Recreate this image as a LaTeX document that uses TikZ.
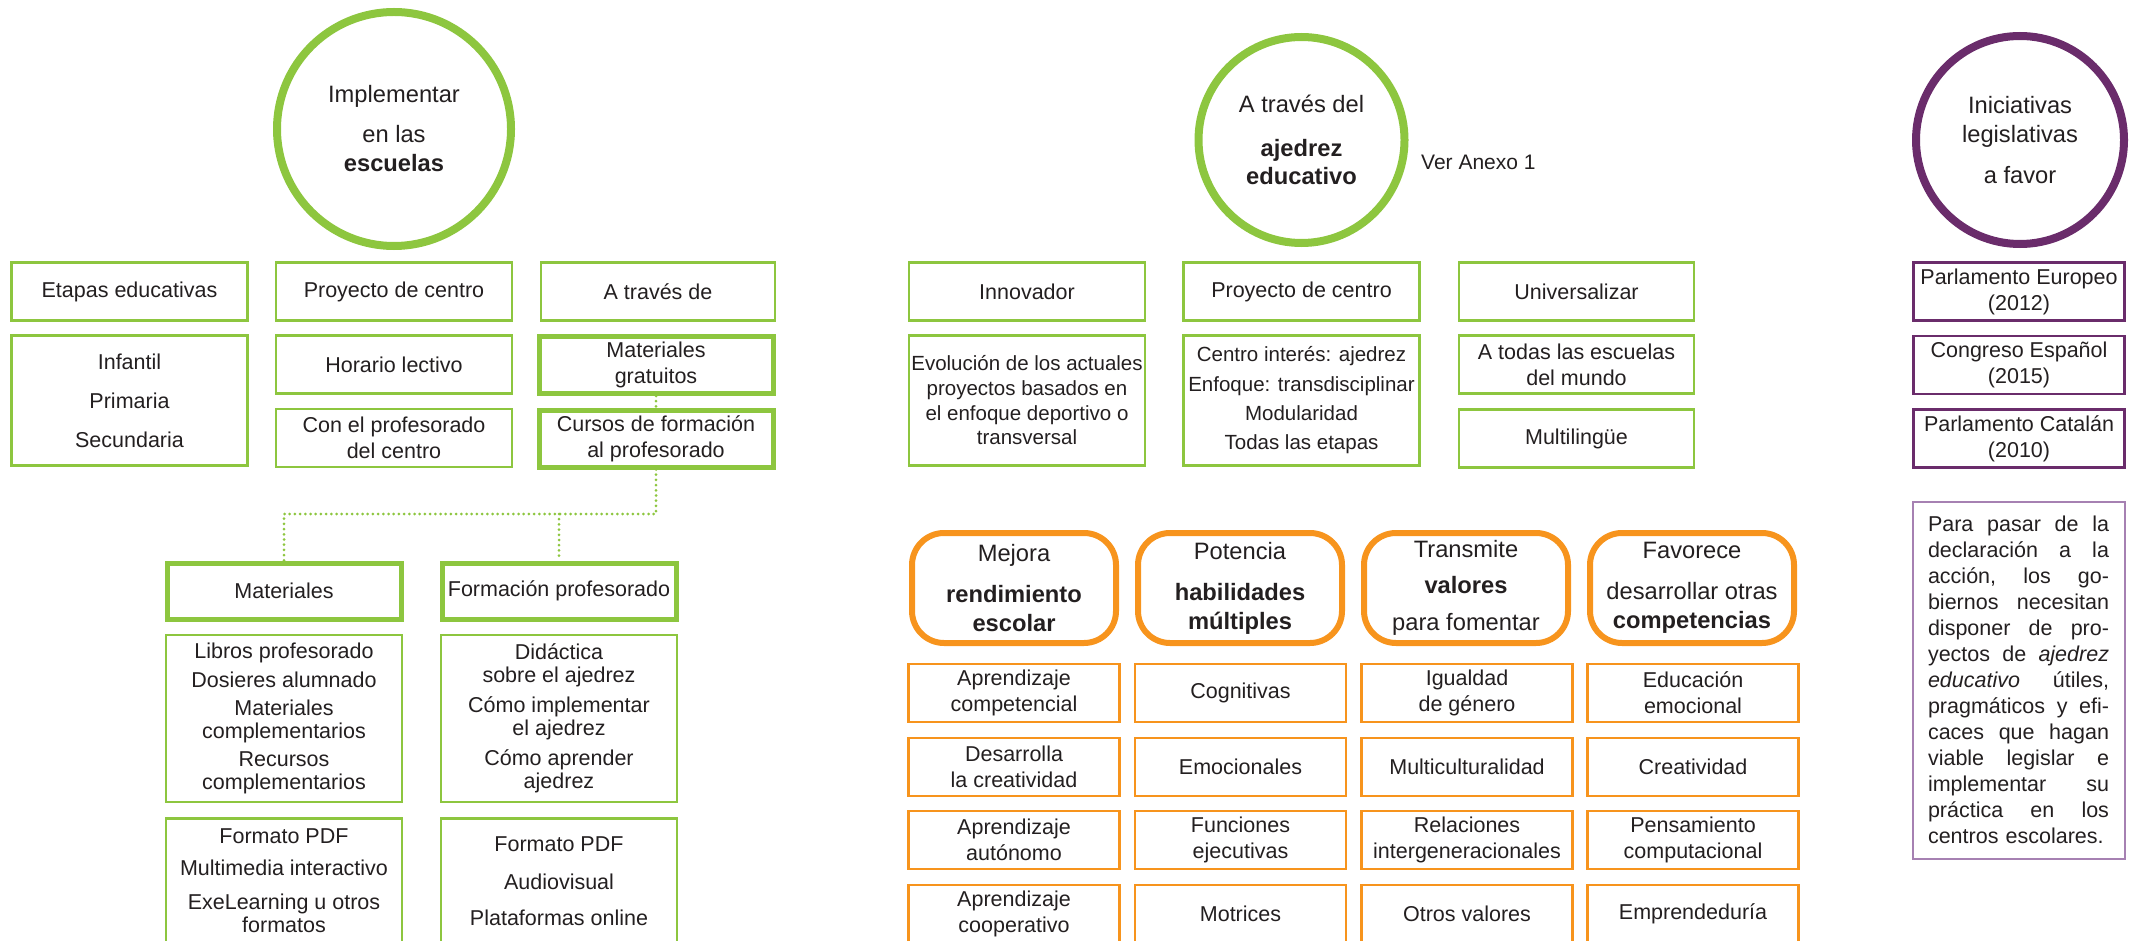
\documentclass[tikz,border=0pt]{standalone}
\usepackage{fontspec}
\setmainfont{Liberation Sans}
\definecolor{verde}{HTML}{8DC63F}
\definecolor{naranja}{HTML}{F7941D}
\definecolor{morado}{HTML}{6A2C6B}
\definecolor{moradoclaro}{HTML}{A681B2}
\definecolor{texto}{HTML}{231F20}
\newcommand{\jline}[1]{\leavevmode\hbox to 181pt{#1}}
\begin{document}
\begin{tikzpicture}[x=1pt,y=-1pt,
        every node/.style={font=\fontsize{21.5}{26}\selectfont, text=texto, align=center, inner sep=0pt},
        big/.style={font=\fontsize{23.7}{28}\selectfont},
        gbox/.style={draw=verde, line width=2.5pt, minimum width=236pt, minimum height=58pt},
        gthick/.style={draw=verde, line width=5pt, minimum width=234pt, minimum height=57pt},
        gcirc/.style={circle, draw=verde, line width=8pt, big},
        oround/.style={draw=naranja, line width=6pt, rounded corners=32pt, minimum width=204pt, minimum height=110pt, big},
        obox/.style={draw=naranja, line width=2.5pt, minimum width=211pt, minimum height=58pt},
        pcirc/.style={circle, draw=morado, line width=8pt, minimum size=208pt, big},
        pbox/.style={draw=morado, line width=2.5pt, minimum width=211pt, minimum height=58pt},
        dotline/.style={draw=verde, line width=3pt, line cap=round, dash pattern=on 0pt off 5.2pt}]
    \clip (0,0) rectangle (2132,941);

    % implementar en las escuelas
    \node[gcirc, minimum size=234pt] (escuelas) at (394,129) {Implementar\\[12pt] en las\\[1pt] \textbf{escuelas}};
    \node[gbox] (etapas) at (129.5,291.5) {Etapas educativas};
    \node[gbox] (proyecto) at (394,291.5) {Proyecto de centro};
    \node[gbox, minimum width=234pt] (atraves) at (658,291.5) {A través de};
    \node[gbox, minimum height=130pt] (niveles) at (129.5,400.5) {Infantil\\[13pt] Primaria\\[13pt] Secundaria};
    \node[gbox] (horario) at (394,364.5) {Horario lectivo};
    \node[gbox] (profcentro) at (394,438) {Con el profesorado\\ del centro};
    \node[gthick] (gratuitos) at (656,365) {Materiales\\ gratuitos};
    \node[gthick] (cursos) at (656,438.5) {Cursos de formación\\ al profesorado};
    \node[gthick, minimum height=56pt] (materiales) at (284,591) {Materiales};
    \node[gthick, minimum height=56pt] (formacion) at (559,591) {Formación profesorado};
    \node[gbox, minimum height=167pt, font=\fontsize{21.5}{23}\selectfont] (libros) at (284,718.5)
        {Libros profesorado\\[6pt] Dosieres alumnado\\[5pt] Materiales\\ complementarios\\[5pt] Recursos\\ complementarios};
    \node[gbox, minimum height=167pt, font=\fontsize{21.5}{23}\selectfont] (didactica) at (559,718.5)
        {Didáctica\\ sobre el ajedrez\\[7pt] Cómo implementar\\ el ajedrez\\[7pt] Cómo aprender\\ ajedrez};
    \node[gbox, minimum height=125.5pt] (formatos) at (284,881) {Formato PDF\\[6pt] Multimedia interactivo\\[8pt] ExeLearning u otros\\[-3pt] formatos};
    \node[gbox, minimum height=125.5pt] (soportes) at (559,881) {Formato PDF\\[12pt] Audiovisual\\[10pt] Plataformas online};

    \coordinate (split) at (656,514);
    \draw[dotline] (gratuitos) -- (cursos);
    \draw[dotline] (cursos) -- (split) -| (materiales);
    \draw[dotline] (split -| formacion) -- (formacion);

    % ajedrez educativo
    \node[gcirc, minimum size=206pt] (ajedrez) at (1301.5,140) {A través del\\[16pt] \textbf{ajedrez}\\ \textbf{educativo}};
    \node[anchor=west, font=\fontsize{21}{26}\selectfont] (anexo) at (1421,162) {Ver Anexo 1};
    \node[gbox] (innovador) at (1027,291.5) {Innovador};
    \node[gbox] (proyecto2) at (1301.5,291.5) {Proyecto de centro};
    \node[gbox, minimum width=235pt] (universal) at (1576.5,291.5) {Universalizar};
    \node[gbox, minimum height=130pt, font=\fontsize{20.5}{24.7}\selectfont] (evolucion) at (1027,400.5)
        {Evolución de los actuales\\ proyectos basados en\\ el enfoque deportivo o\\ transversal};
    \node[gbox, minimum height=130pt, font=\fontsize{20.5}{29.3}\selectfont] (centro) at (1301.5,400.5)
        {Centro interés: ajedrez\\ Enfoque: transdisciplinar\\ Modularidad\\ Todas las etapas};
    \node[gbox, minimum width=235pt] (todas) at (1576.5,364.5) {A todas las escuelas\\ del mundo};
    \node[gbox, minimum width=235pt] (multilingue) at (1576.5,438.5) {Multilingüe};

    % beneficios
    \node[oround] (mejora) at (1014,588) {Mejora\\[13pt] \textbf{rendimiento}\\[1pt] \textbf{escolar}};
    \node[oround] (potencia) at (1240,588) {Potencia\\[13pt] \textbf{habilidades}\\[1pt] \textbf{múltiples}};
    \node[oround] (transmite) at (1466,588) {Transmite\\[8pt] \textbf{valores}\\[9pt] para fomentar};
    \node[oround] (favorece) at (1692,588) {Favorece\\[13pt] desarrollar otras\\[1pt] \textbf{competencias}};

    \node[obox] (competencial) at (1014,693) {Aprendizaje\\ competencial};
    \node[obox] (creatividad) at (1014,767) {Desarrolla\\ la creatividad};
    \node[obox] (autonomo) at (1014,840) {Aprendizaje\\ autónomo};
    \node[obox] (cooperativo) at (1014,914) {Aprendizaje\\ cooperativo};
    \node[obox] (cognitivas) at (1240.5,693) {Cognitivas};
    \node[obox] (emocionales) at (1240.5,767) {Emocionales};
    \node[obox] (ejecutivas) at (1240.5,840) {Funciones\\ ejecutivas};
    \node[obox] (motrices) at (1240.5,914) {Motrices};
    \node[obox] (igualdad) at (1467,693) {Igualdad\\ de género};
    \node[obox] (multicultura) at (1467,767) {Multiculturalidad};
    \node[obox] (relaciones) at (1467,840) {Relaciones\\ intergeneracionales};
    \node[obox] (otros) at (1467,914) {Otros valores};
    \node[obox] (emocional) at (1693,693) {Educación\\ emocional};
    \node[obox] (creativa) at (1693,767) {Creatividad};
    \node[obox] (computacional) at (1693,840) {Pensamiento\\ computacional};
    \node[obox] (emprende) at (1693,914) {Emprendeduría};

    % iniciativas legislativas
    \node[pcirc] (iniciativas) at (2020,140) {Iniciativas\\[1pt] legislativas\\[13pt] a favor};
    \node[pbox] (europeo) at (2019,291.5) {Parlamento Europeo\\ (2012)};
    \node[pbox] (espanol) at (2019,365) {Congreso Español\\ (2015)};
    \node[pbox] (catalan) at (2019,438.5) {Parlamento Catalán\\ (2010)};
    \node[draw=moradoclaro, line width=2pt, minimum width=212pt, minimum height=357pt, text width=181pt, align=left] (accion) at (2018.5,680)
        {\jline{Para\hfill pasar\hfill de\hfill la}\\ \jline{declaración\hfill a\hfill la}\\ \jline{acción,\hfill los\hfill go-}\\
         \jline{biernos\hfill necesitan}\\ \jline{disponer\hfill de\hfill pro-}\\ \jline{yectos\hfill de\hfill \textit{ajedrez}}\\
         \jline{\textit{educativo}\hfill útiles,}\\ \jline{pragmáticos\hfill y\hfill efi-}\\ \jline{caces\hfill que\hfill hagan}\\
         \jline{viable\hfill legislar\hfill e}\\ \jline{implementar\hfill su}\\ \jline{práctica\hfill en\hfill los}\\ centros escolares.};
\end{tikzpicture}
\end{document}
